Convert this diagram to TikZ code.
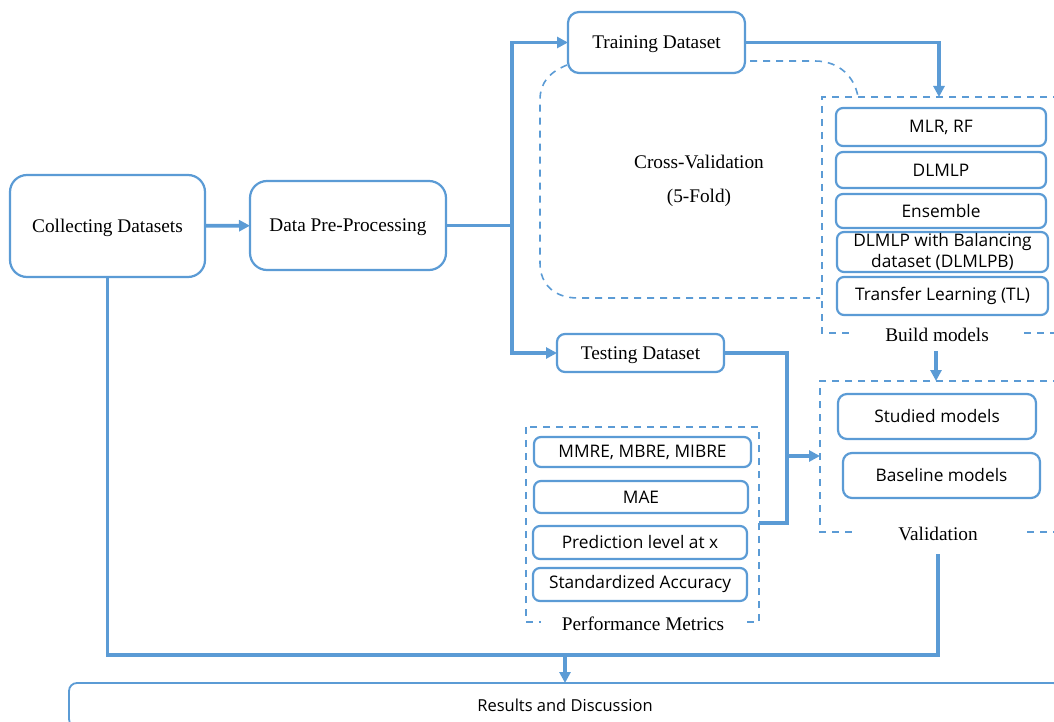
\documentclass[tikz,border=0pt]{standalone}
\usepackage{fontspec}
\setmainfont{Liberation Serif}
\newfontfamily\sansf{Open Sans}
\usetikzlibrary{arrows.meta}
\definecolor{fb}{HTML}{5B9BD5}
\begin{document}
\begin{tikzpicture}[x=1pt,y=-1pt,
  conn/.style={draw=fb,line width=3.6pt},
  arr/.style={-{Triangle[length=11pt,width=11pt]}},
  bigbox/.style={draw=fb,line width=2.2pt,rounded corners=17pt,fill=white,inner sep=0pt,outer sep=0pt,font=\fontsize{19.3}{22}\selectfont,text depth=0pt},
  midbox/.style={draw=fb,line width=2.2pt,rounded corners=11pt,fill=white,inner sep=0pt,outer sep=0pt,font=\fontsize{19.3}{22}\selectfont,text depth=0pt},
  smallbox/.style={draw=fb,line width=2.2pt,rounded corners=7pt,fill=white,inner sep=0pt,outer sep=0pt,font=\sansf\fontsize{17.3}{21}\selectfont,align=center},
  dashline/.style={draw=fb,line width=1.6pt,dash pattern=on 7pt off 6pt},
  lab/.style={fill=white,inner sep=0pt,font=\fontsize{19.3}{22}\selectfont}]
\useasboundingbox (0,0) rectangle (1054,722);
\clip (0,0) rectangle (1054,722);

% main boxes
\node[bigbox,minimum width=195pt,minimum height=102pt] (coll) at (107.5,226) {Collecting Datasets};
\node[bigbox,minimum width=196pt,minimum height=89pt] (pre) at (348,225.5) {Data Pre-Processing};
\node[midbox,minimum width=177pt,minimum height=61pt] (train) at (656.5,42.5) {Training Dataset};
\node[midbox,rounded corners=8pt,minimum width=167pt,minimum height=38pt] (test) at (640.5,353) {Testing Dataset};

% cross-validation dashed region
\draw[dashline] (567,65) .. controls (550,72) and (540,82) .. (540,100) -- (540,263) .. controls (540,285) and (555,298) .. (578,298) -- (820,298);
\draw[dashline] (750,61) -- (815,61) .. controls (840,61) and (855,78) .. (858,97);
\node[font=\fontsize{19.3}{34}\selectfont,align=center] (cv) at (699,181) {Cross-Validation\\(5-Fold)};

% build models group
\draw[dashline] (1060,97) -- (822,97) -- (822,333) -- (1060,333);
\node[lab,minimum width=166pt,minimum height=20pt] (bmlab) at (937,335) {Build models};
\node[smallbox,minimum width=210pt,minimum height=38pt] (mlr) at (941,127) {MLR, RF};
\node[smallbox,minimum width=210pt,minimum height=36pt] (dlmlp) at (941,170) {DLMLP};
\node[smallbox,minimum width=210pt,minimum height=34pt] (ens) at (941,211) {Ensemble};
\node[smallbox,minimum width=211pt,minimum height=40pt] (dlmlpb) at (942.5,252) {DLMLP with Balancing\\dataset (DLMLPB)};
\node[smallbox,minimum width=211pt,minimum height=38pt] (tl) at (942.5,296) {Transfer Learning (TL)};

% validation group
\draw[dashline] (1060,381) -- (820,381) -- (820,532) -- (1060,532);
\node[lab,minimum width=166pt,minimum height=20pt] (vlab) at (938,534) {Validation};
\node[smallbox,rounded corners=9pt,minimum width=198pt,minimum height=45pt] (studied) at (937,416.5) {Studied models};
\node[smallbox,rounded corners=9pt,minimum width=197pt,minimum height=45pt] (baseline) at (941.5,475.5) {Baseline models};

% performance metrics group
\draw[dashline] (526,427) rectangle (759,622);
\node[lab,minimum width=204pt,minimum height=20pt] (pmlab) at (643,624) {Performance Metrics};
\node[smallbox,minimum width=217pt,minimum height=30pt] (mmre) at (642.5,452) {MMRE, MBRE, MIBRE};
\node[smallbox,minimum width=214pt,minimum height=32pt] (mae) at (641,497) {MAE};
\node[smallbox,minimum width=214pt,minimum height=33pt] (pred) at (640,542.5) {Prediction level at x};
\node[smallbox,minimum width=214pt,minimum height=33pt] (sa) at (640,584.5) {Standardized Accuracy};

% results
\node[draw=fb,line width=1.8pt,rounded corners=8pt,fill=white,inner sep=0pt,outer sep=0pt,minimum width=992pt,minimum height=44pt,anchor=north west,font=\sansf\fontsize{16.5}{20}\selectfont] (res) at (69,683) {Results and Discussion};

% coordinates
\coordinate (split) at (512,225.5);
\coordinate (bmtop) at (939,97);
\coordinate (bmout) at (936,351);
\coordinate (valtop) at (936,381);
\coordinate (tcorner) at (787,523);
\coordinate (pmright) at (759,523);
\coordinate (tj) at (787,456);
\coordinate (valleft) at (820,456);
\coordinate (valout) at (938,554);
\coordinate (botleft) at (107.5,655);
\coordinate (resj) at (565,655);

% connectors
\draw[conn,arr] (coll) -- (pre);
\draw[conn] (pre.east) -- (split);
\draw[conn,arr] (split) |- (train.west);
\draw[conn,arr] (split) |- (test.west);
\draw[conn,arr] (train.east) -| (bmtop);
\draw[conn,arr] (bmout) -- (valtop);
\draw[conn] (test.east) -| (tcorner) -- (pmright);
\draw[conn,arr] (tj) -- (valleft);
\draw[conn] (valout) |- (botleft) -- (coll.south);
\draw[conn,arr] (resj) -- (res.north -| resj);
\end{tikzpicture}
\end{document}
